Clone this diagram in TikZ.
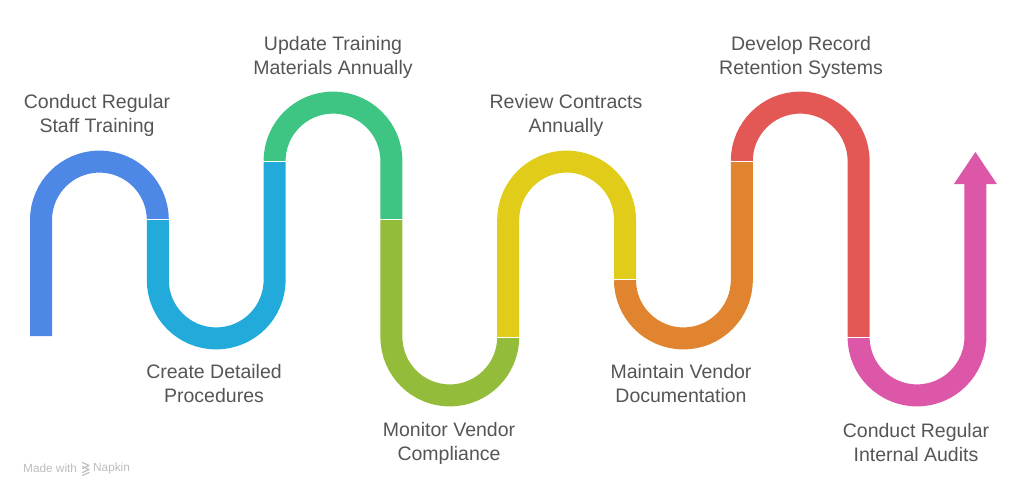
\documentclass[tikz,border=0pt]{standalone}
\usepackage{fontspec}
\setmainfont{Liberation Sans}
\definecolor{cblue}{HTML}{4E88E6}
\definecolor{ccyan}{HTML}{22ABDA}
\definecolor{cgreen}{HTML}{3EC583}
\definecolor{colive}{HTML}{93BC3A}
\definecolor{cyellow}{HTML}{E1CC19}
\definecolor{corange}{HTML}{E0842F}
\definecolor{cred}{HTML}{E35855}
\definecolor{cpink}{HTML}{DD57A8}
\definecolor{ctext}{HTML}{555555}
\definecolor{cnap}{HTML}{BDBDBD}
\begin{document}
\begin{tikzpicture}[x=1pt,y=-1pt,
  band/.style={line width=22pt,line cap=butt,line join=round},
  lbl/.style={align=center,text=ctext,font=\fontsize{19.5}{24}\selectfont,inner sep=0pt},
  nap/.style={anchor=west,text=cnap,font=\fontsize{11.8}{13}\selectfont,inner sep=0pt},
  gap/.style={white,line width=1.6pt}]
\useasboundingbox (0,0) rectangle (1024,496);
\def\r{58.4}
% segments
\draw[band,cblue] (41,336) -- (41,220) arc[start angle=180,end angle=360,radius=\r];
\draw[band,ccyan] (157.8,220) -- (157.8,280) arc[start angle=180,end angle=0,radius=\r] -- (274.6,161);
\draw[band,cgreen] (274.6,161) arc[start angle=180,end angle=360,radius=\r] -- (391.4,220);
\draw[band,colive] (391.4,220) -- (391.4,337) arc[start angle=180,end angle=0,radius=\r];
\draw[band,cyellow] (508.2,337) -- (508.2,220) arc[start angle=180,end angle=360,radius=\r] -- (625,280);
\draw[band,corange] (625,280) arc[start angle=180,end angle=0,radius=\r] -- (741.8,161);
\draw[band,cred] (741.8,161) arc[start angle=180,end angle=360,radius=\r] -- (858.6,337);
\draw[band,cpink] (858.6,337) arc[start angle=180,end angle=0,radius=\r] -- (975.4,183);
\fill[cpink] (953.9,184) -- (996.9,184) -- (975.4,152) -- cycle;
% white gaps
\foreach \x/\y in {157.8/219.5,274.6/161.5,391.4/219.5,508.2/337.5,625/279.5,741.8/161.5,858.6/337.5}
  \draw[gap] (\x-13,\y) -- (\x+13,\y);
% labels
\node[lbl] (l1) at (97,115) {Conduct Regular\\Staff Training};
\node[lbl] (l2) at (214,384) {Create Detailed\\Procedures};
\node[lbl] (l3) at (333,57) {Update Training\\Materials Annually};
\node[lbl] (l4) at (449,443) {Monitor Vendor\\Compliance};
\node[lbl] (l5) at (566,115) {Review Contracts\\Annually};
\node[lbl] (l6) at (681,384) {Maintain Vendor\\Documentation};
\node[lbl] (l7) at (801,57) {Develop Record\\Retention Systems};
\node[lbl] (l8) at (916,443) {Conduct Regular\\Internal Audits};
% watermark
\node[nap] (mw) at (23,468) {Made with};
\node[nap] (np) at (93,468) {Napkin};
\draw[cnap,line width=1.2pt,line cap=round,line join=round] (82.5,462.5) -- (89,465.5) -- (82.5,468.5);
\draw[cnap,line width=1.2pt,line cap=round,line join=round] (82.5,466.5) -- (89,469.5) -- (82.5,472.5);
\draw[cnap,line width=1.2pt,line cap=round] (82.5,475.5) -- (89,472.5);
\end{tikzpicture}
\end{document}
